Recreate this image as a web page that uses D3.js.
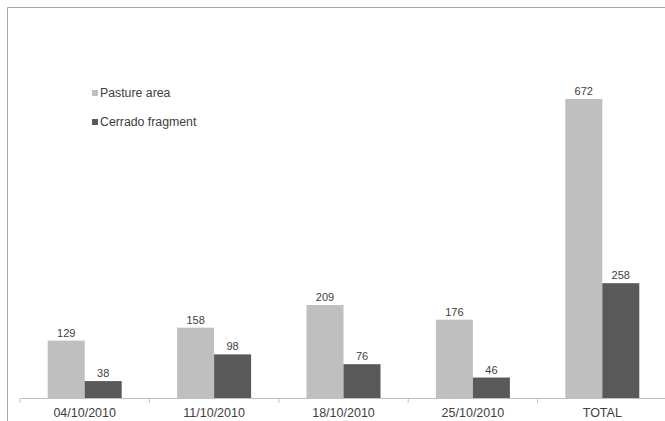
<!DOCTYPE html>
<html>
<head>
<meta charset="utf-8">
<script src="https://d3js.org/d3.v7.min.js"></script>
<style>
  body { margin: 0; background: #fff; }
  text { font-family: "Liberation Sans", Arial, sans-serif; fill: #404040; }
</style>
</head>
<body>
<div id="chart"></div>
<script>
// data
var dates = ["04/10/2010", "11/10/2010", "18/10/2010", "25/10/2010", "TOTAL"];
var pasture = [129, 158, 209, 176, 672];
var cerrado = [38, 98, 76, 46, 258];
var seriesNames = ["Pasture area", "Cerrado fragment"];

var W = 665, H = 421;
var svg = d3.select("#chart").append("svg").attr("width", W).attr("height", H);

// outer frame (cut off on the right and bottom)
svg.append("path")
  .attr("d", "M7.5," + H + "V7.5H" + W)
  .attr("fill", "none").attr("stroke", "#a6a6a6").attr("stroke-width", 1);

var x0 = d3.scaleBand().domain(dates).range([20, 667]).paddingInner(0).paddingOuter(0);
var x1 = d3.scaleBand().domain(seriesNames).range([0, 74]);
var y = d3.scaleLinear().domain([0, 800]).range([398, 42]);

var rows = dates.map(function (d, i) {
  return { date: d, vals: [
    { s: seriesNames[0], v: pasture[i], c: "#bfbfbf" },
    { s: seriesNames[1], v: cerrado[i], c: "#595959" }
  ] };
});

var groups = svg.selectAll("g.grp").data(rows).enter().append("g")
  .attr("class", "grp")
  .attr("transform", function (d) { return "translate(" + (x0(d.date) + (x0.bandwidth() - 74) / 2) + ",0)"; });

groups.selectAll("rect").data(function (d) { return d.vals; }).enter().append("rect")
  .attr("x", function (d) { return x1(d.s); })
  .attr("width", x1.bandwidth())
  .attr("y", function (d) { return y(d.v); })
  .attr("height", function (d) { return y(0) - y(d.v); })
  .attr("fill", function (d) { return d.c; });

groups.selectAll("text").data(function (d) { return d.vals; }).enter().append("text")
  .attr("x", function (d) { return x1(d.s) + x1.bandwidth() / 2; })
  .attr("y", function (d) { return y(d.v) - 4; })
  .attr("text-anchor", "middle")
  .style("font-size", "11px")
  .text(function (d) { return d.v; });

// x axis
var xAxis = d3.axisBottom(x0).tickSize(0).tickPadding(10);
var ax = svg.append("g").attr("transform", "translate(0,398)").call(xAxis);
ax.select(".domain").attr("stroke", "#bfbfbf");
ax.selectAll("text").style("font-size", "12.5px").attr("fill", "#333");
// separators between categories
var seps = dates.map(function (d) { return x0(d); }).slice(1);
ax.selectAll("line.sep").data(seps).enter().append("line")
  .attr("class", "sep")
  .attr("x1", function (d) { return d; }).attr("x2", function (d) { return d; })
  .attr("y1", 0).attr("y2", 5)
  .attr("stroke", "#bfbfbf");
ax.append("line").attr("x1", 20).attr("x2", 20).attr("y1", 0).attr("y2", 5).attr("stroke", "#bfbfbf");

// legend
var legend = svg.append("g");
seriesNames.forEach(function (s, i) {
  var ly = 93 + i * 29;
  legend.append("rect").attr("x", 92).attr("y", ly - 3).attr("width", 6).attr("height", 6)
    .attr("fill", i === 0 ? "#bfbfbf" : "#595959");
  legend.append("text").attr("x", 100).attr("y", ly + 4).style("font-size", "12.3px").text(s);
});
</script>
</body>
</html>
